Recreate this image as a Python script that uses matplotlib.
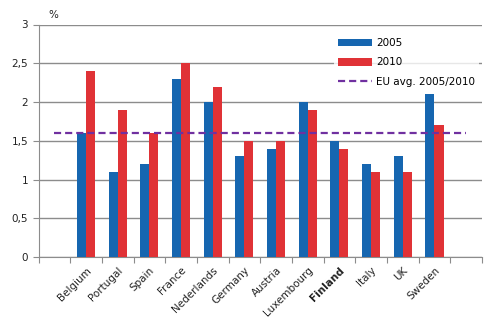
import numpy as np
import matplotlib
matplotlib.use('Agg')
import matplotlib.pyplot as plt
from matplotlib.ticker import FuncFormatter

countries = ['Belgium', 'Portugal', 'Spain', 'France', 'Nederlands', 'Germany',
             'Austria', 'Luxembourg', 'Finland', 'Italy', 'UK', 'Sweden']
values_2005 = [1.6, 1.1, 1.2, 2.3, 2.0, 1.3, 1.4, 2.0, 1.5, 1.2, 1.3, 2.1]
values_2010 = [2.4, 1.9, 1.6, 2.5, 2.2, 1.5, 1.5, 1.9, 1.4, 1.1, 1.1, 1.7]
eu_avg = 1.6

blue = '#1666b0'
red = '#e03236'
purple = '#7030a0'
grid_col = '#8c8c8c'

fig = plt.figure(figsize=(4.98, 3.33), dpi=100)
ax = fig.add_axes([38.5 / 498, 1 - 257 / 333, (482 - 38.5) / 498, (257 - 24.5) / 333])

# categories 0 and 13 are empty slots
x = np.arange(1, len(countries) + 1)
w = 0.285
b1 = ax.bar(x - w / 2, values_2005, w, color=blue, label='2005', zorder=3)
b2 = ax.bar(x + w / 2, values_2010, w, color=red, label='2010', zorder=3)
ln, = ax.plot([0, len(countries) + 1], [eu_avg, eu_avg], color=purple, lw=1.6,
              ls=(0, (3.2, 1.8)), label='EU avg. 2005/2010', zorder=4)

ax.set_xlim(-0.5, len(countries) + 1.5)
ax.set_ylim(0, 3)
ax.set_yticks(np.arange(0, 3.01, 0.5))
ax.yaxis.set_major_formatter(FuncFormatter(lambda v, p: ('%g' % v).replace('.', ',')))
ax.yaxis.grid(True, color=grid_col, lw=1)
ax.set_axisbelow(True)

# ticks at category boundaries, labels at centres
ax.set_xticks(np.arange(-0.5, len(countries) + 2, 1))
ax.set_xticklabels([])
ax.set_xticks(x, minor=True)
ax.set_xticklabels(countries, minor=True, rotation=45, ha='right', va='top',
                   rotation_mode='anchor', fontsize=7.5, color='#222222')
ax.tick_params(axis='x', which='minor', length=0, pad=6)
ax.tick_params(axis='x', which='major', length=4, color=grid_col, direction='out')
ax.tick_params(axis='y', length=4, color=grid_col, labelsize=7.5, labelcolor='#222222')
for lbl in ax.get_xticklabels(minor=True):
    if lbl.get_text() == 'Finland':
        lbl.set_fontweight('bold')

for s in ['top', 'right']:
    ax.spines[s].set_visible(False)
for s in ['left', 'bottom']:
    ax.spines[s].set_color(grid_col)

ax.text(-0.2, 3.09, '%', fontsize=7.5, color='#222222', transform=ax.transData)

leg = ax.legend([b1, b2, ln], ['2005', '2010', 'EU avg. 2005/2010'],
                loc='upper left', bbox_to_anchor=(0.666, 0.96), frameon=True,
                fontsize=7.5, handlelength=3.3, handleheight=0.75, labelspacing=0.9,
                borderaxespad=0, handletextpad=0.35)
leg.get_frame().set_facecolor('white')
leg.get_frame().set_edgecolor('none')
leg.set_zorder(5)

fig.savefig('out.png', dpi=100)
